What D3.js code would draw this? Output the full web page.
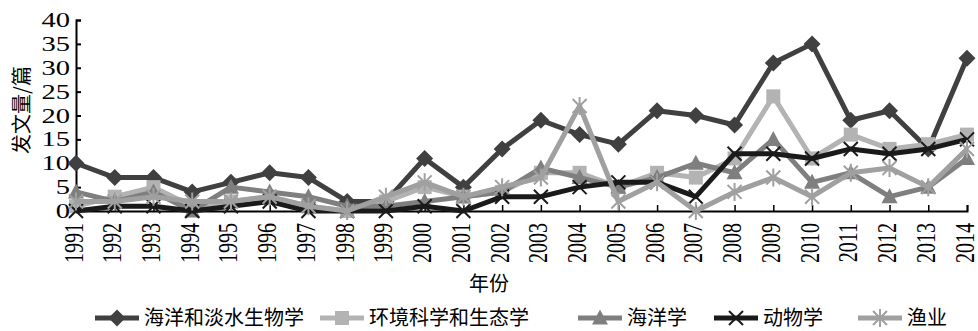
<!DOCTYPE html>
<html>
<head>
<meta charset="utf-8">
<script src="https://cdn.jsdelivr.net/npm/d3@7"></script>
<style>
  html, body { margin: 0; padding: 0; background: #fff; }
  svg { display: block; }
  .num { font-family: "Liberation Serif", "Times New Roman", serif; fill: #000; }
  .cjk { font-family: "Noto Sans CJK SC", sans-serif; fill: #000; }
</style>
</head>
<body>
<svg id="chart" width="978" height="331"></svg>
<script>
// Publication counts per year by research field
const years = ["1991","1992","1993","1994","1995","1996","1997","1998","1999","2000","2001","2002",
               "2003","2004","2005","2006","2007","2008","2009","2010","2011","2012","2013","2014"];
const marineFreshwater = [10, 7, 7, 4, 6, 8, 7, 2, 2, 11, 5, 13, 19, 16, 14, 21, 20, 18, 31, 35, 19, 21, 13, 32];
const envEcology       = [1, 3, 5, 1, 2, 3, 1, 0, 2, 5, 3, 4, 8, 8, 5, 8, 7, 11, 24, 11, 16, 13, 14, 16];
const oceanography     = [4, 2, 4, 0, 5, 4, 3, 1, 1, 2, 3, 4, 9, 7, 5, 7, 10, 8, 15, 6, 8, 3, 5, 11];
const zoology          = [0, 1, 1, 0, 1, 2, 0, 0, 0, 1, 0, 3, 3, 5, 6, 6, 3, 12, 12, 11, 13, 12, 13, 15];
const fisheries        = [2, 2, 3, 2, 2, 3, 1, 0, 3, 6, 3, 5, 7, 22, 2, 6, 0, 4, 7, 3, 8, 9, 5, 13];
const yTicks = [0, 5, 10, 15, 20, 25, 30, 35, 40];
const yTitle = "发文量/篇";
const xTitle = "年份";

const series = [
  { name: "海洋和淡水生物学", values: marineFreshwater, color: "#404040", marker: "diamond" },
  { name: "环境科学和生态学", values: envEcology,       color: "#b3b3b3", marker: "square" },
  { name: "海洋学",           values: oceanography,     color: "#7f7f7f", marker: "triangle" },
  { name: "动物学",           values: zoology,          color: "#1a1a1a", marker: "cross" },
  { name: "渔业",             values: fisheries,        color: "#a0a0a0", marker: "asterisk" }
];

const svg = d3.select("#chart");
const x = d3.scalePoint().domain(years).range([76, 967]);
const y = d3.scaleLinear().domain([0, 40]).range([211, 20]);
const NUM_SX = 1.36;

// axes with inward ticks
const gy = svg.append("g").attr("transform", "translate(76,0)");
gy.call(d3.axisLeft(y).tickValues(yTicks).tickSize(-5).tickPadding(0).tickFormat(() => ""));
gy.select(".domain").attr("stroke", "#000").attr("stroke-width", 2);
gy.selectAll(".tick line").attr("stroke", "#000").attr("stroke-width", 2);

const gx = svg.append("g").attr("transform", "translate(0,211)");
gx.call(d3.axisBottom(x).tickSize(-6).tickFormat(() => ""));
gx.select(".domain").attr("stroke", "#000").attr("stroke-width", 2);
gx.selectAll(".tick line").attr("stroke", "#000").attr("stroke-width", 1.5);

// y tick labels (wide serif numerals)
svg.append("g").selectAll("text").data(yTicks).join("text")
  .attr("class", "num")
  .attr("font-size", 21)
  .attr("text-anchor", "end")
  .attr("transform", d => `translate(70,${y(d) + 7}) scale(${NUM_SX},1)`)
  .text(d => d);

// x tick labels, rotated
svg.append("g").selectAll("text").data(years).join("text")
  .attr("class", "num")
  .attr("font-size", 20)
  .attr("text-anchor", "end")
  .attr("transform", d => `translate(${x(d) + 6.5},223) scale(${NUM_SX},1) rotate(-90)`)
  .text(d => d);

// axis titles
svg.append("text").attr("class", "cjk").attr("font-size", 20)
  .attr("text-anchor", "middle")
  .attr("transform", "translate(29,110) rotate(-90)")
  .text(yTitle);
svg.append("text").attr("class", "cjk").attr("font-size", 20)
  .attr("text-anchor", "middle")
  .attr("x", 489).attr("y", 291)
  .text(xTitle);

// marker shapes
function drawMarker(g, type, color, cx, cy) {
  if (type === "diamond") {
    g.append("path").attr("d", `M${cx},${cy - 8.5}L${cx + 8.5},${cy}L${cx},${cy + 8.5}L${cx - 8.5},${cy}Z`).attr("fill", color);
  } else if (type === "square") {
    g.append("rect").attr("x", cx - 7).attr("y", cy - 7).attr("width", 14).attr("height", 14).attr("fill", color);
  } else if (type === "triangle") {
    g.append("path").attr("d", `M${cx},${cy - 8.5}L${cx + 8},${cy + 6.5}L${cx - 8},${cy + 6.5}Z`).attr("fill", color);
  } else if (type === "cross") {
    g.append("path").attr("d", `M${cx - 7},${cy - 7}L${cx + 7},${cy + 7}M${cx - 7},${cy + 7}L${cx + 7},${cy - 7}`)
      .attr("stroke", color).attr("stroke-width", 2).attr("fill", "none");
  } else if (type === "asterisk") {
    g.append("path").attr("d", `M${cx - 7},${cy - 7}L${cx + 7},${cy + 7}M${cx - 7},${cy + 7}L${cx + 7},${cy - 7}M${cx},${cy - 9}L${cx},${cy + 9}`)
      .attr("stroke", color).attr("stroke-width", 2).attr("fill", "none");
  }
}

const line = d3.line().x((d, i) => x(years[i])).y(d => y(d));

series.forEach(s => {
  const g = svg.append("g");
  g.append("path").datum(s.values).attr("d", line)
    .attr("fill", "none").attr("stroke", s.color).attr("stroke-width", 5)
    .attr("stroke-linejoin", "round");
  s.values.forEach((v, i) => drawMarker(g, s.marker, s.color, x(years[i]), y(v)));
});

// legend, one entry per series
const legendX = [95, 320, 578, 714, 858];
const ly = 318;
const legend = svg.append("g");
series.forEach((s, i) => {
  const lx = legendX[i];
  const g = legend.append("g");
  g.append("line").attr("x1", lx).attr("x2", lx + 44).attr("y1", ly).attr("y2", ly)
    .attr("stroke", s.color).attr("stroke-width", 5);
  drawMarker(g, s.marker, s.color, lx + 22, ly);
  g.append("text").attr("class", "cjk").attr("font-size", 20)
    .attr("x", lx + 49).attr("y", ly + 7).text(s.name);
});
</script>
</body>
</html>
